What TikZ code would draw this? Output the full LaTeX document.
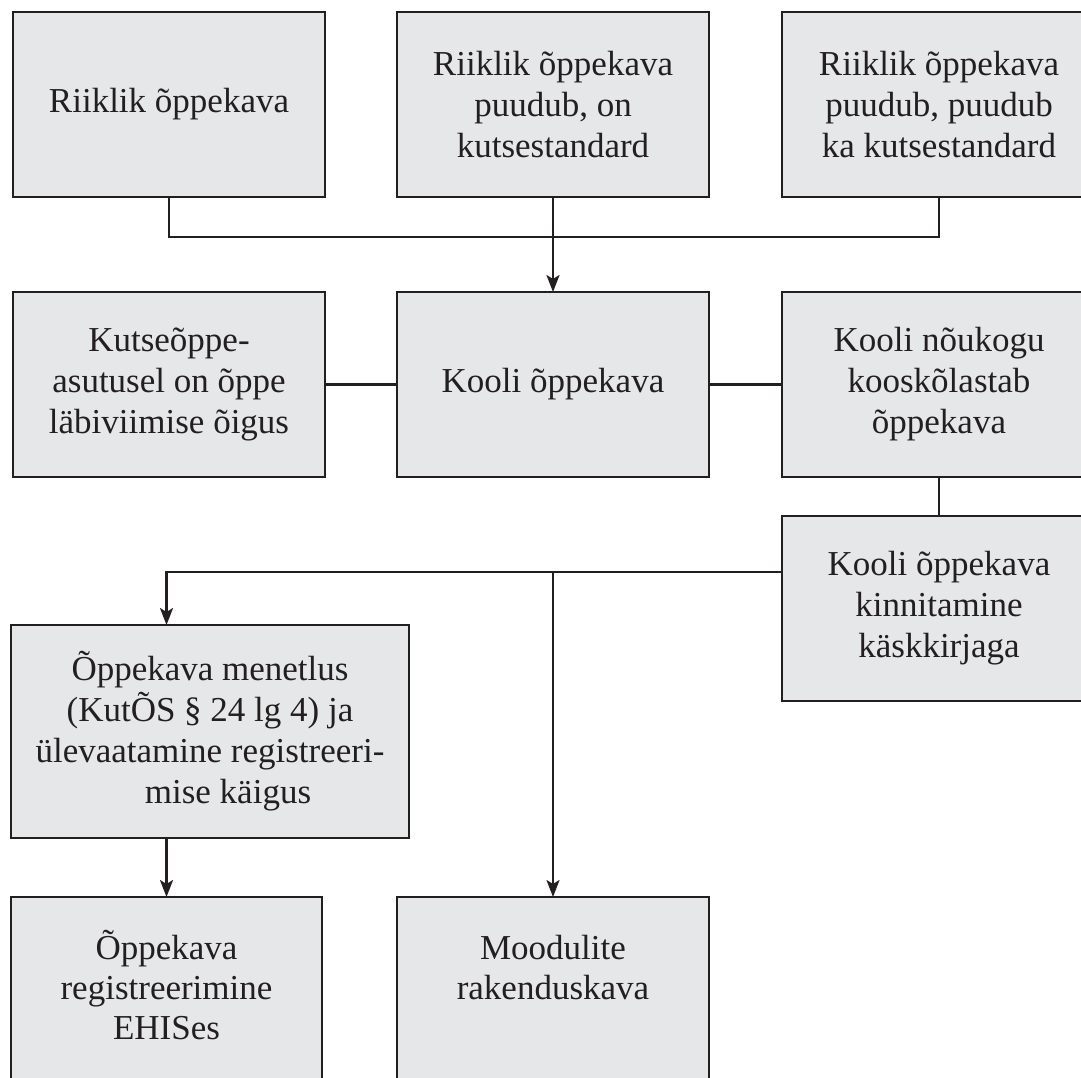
\documentclass[tikz,border=0pt]{standalone}
\usepackage{fontspec}
\setmainfont{Liberation Serif}
\usetikzlibrary{arrows.meta,calc}
\definecolor{boxgray}{HTML}{E6E7E8}
\definecolor{ink}{HTML}{231F20}
\begin{document}
\begin{tikzpicture}[x=1pt,y=-1pt,
  box/.style={draw=ink, fill=boxgray, line width=2.5pt, rectangle,
    inner sep=0pt, outer sep=0pt, anchor=north west,
    minimum width=312pt, minimum height=185pt,
    align=center, text=ink, font=\fontsize{35}{41}\selectfont},
  label text/.style={align=center, text=ink, inner sep=0pt,
    font=\fontsize{35}{40}\selectfont, anchor=north},
  link/.style={draw=ink, line width=2.5pt},
  arrow/.style={link, -{Stealth[length=17pt,width=13pt,inset=4pt]}}]
\useasboundingbox (0,0) rectangle (1081,1077);
\fill[white] (0,0) rectangle (1081,1077);

% top row: sources of the school curriculum
\node[box] (A) at (13,12) {Riiklik õppekava};
\node[box] (B) at (397,12) {Riiklik õppekava\\puudub, on\\kutsestandard};
\node[box, minimum width=314pt] (C) at (782,12) {Riiklik õppekava\\puudub, puudub\\ka kutsestandard};

% middle row
\node[box] (A2) at (13,292) {Kutseõppe-\\asutusel on õppe\\läbiviimise õigus};
\node[box] (B2) at (397,292) {Kooli õppekava};
\node[box, minimum width=314pt] (C2) at (782,292) {Kooli nõukogu\\kooskõlastab\\õppekava};
\node[box, minimum width=314pt] (K) at (782,516) {Kooli õppekava\\kinnitamine\\käskkirjaga};

% procedure box
\node[box, minimum width=398pt, minimum height=213pt] (D) at (11,625)
  {Õppekava menetlus\\(KutÕS § 24 lg 4) ja\\ülevaatamine registreeri-\\\hspace*{36pt}mise käigus};

% bottom row (text set from the top)
\node[box, minimum width=311pt] (E) at (11,897) {};
\node[box] (F) at (397,897) {};
\node[label text] (Et) at ($(E.north)+(0,31)$) {\rule{0pt}{31pt}Õppekava\\registreerimine\\EHISes};
\node[label text] (Ft) at ($(F.north)+(0,31)$) {\rule{0pt}{31pt}Moodulite\\rakenduskava};

% connectors
\coordinate (bus) at (553,237);
\draw[link] (A.south) -- (A.south |- bus) -- (C.south |- bus) -- (C.south);
\draw[arrow] (B.south) -- (B2.north);
\draw[link] (A2.east) -- (B2.west);
\draw[link] (B2.east) -- (C2.west);
\draw[link] (C2.south) -- (K.north);

\coordinate (kout) at (782,572);
\draw[arrow] (kout) -- (E.north |- kout) -- (E.north |- D.north);
\draw[arrow] (F.north |- kout) -- (F.north);
\draw[arrow] (E.north |- D.south) -- (E.north);
\end{tikzpicture}
\end{document}
